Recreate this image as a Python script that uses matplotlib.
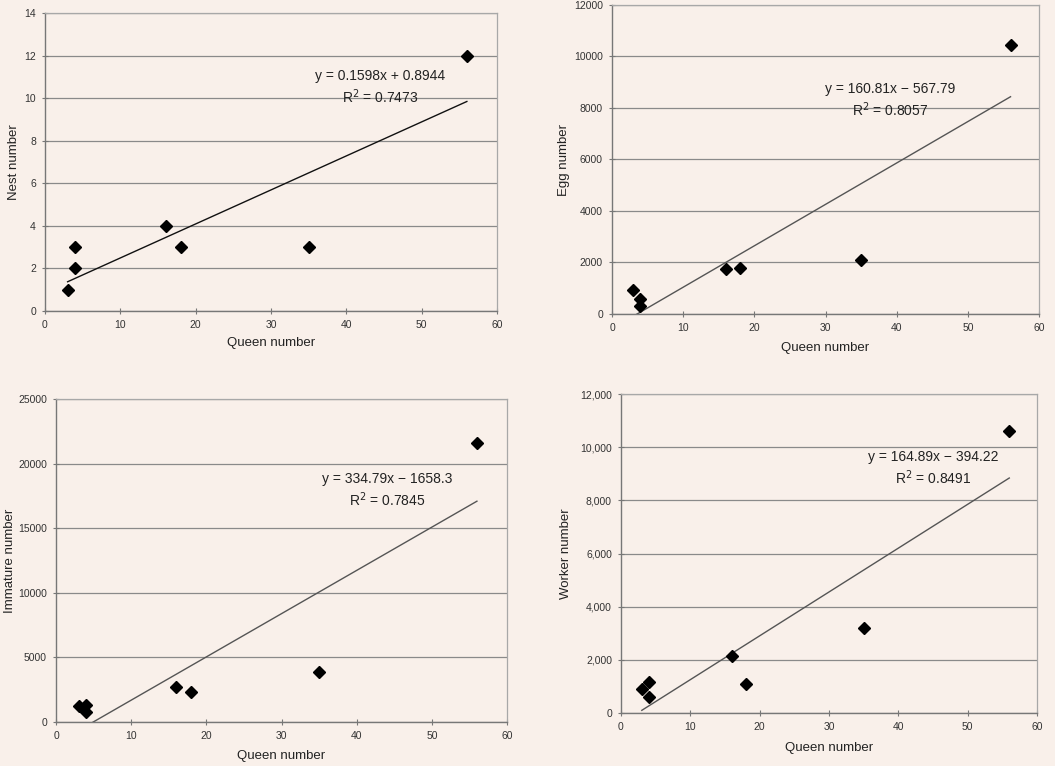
import matplotlib
matplotlib.use("Agg")
import matplotlib.pyplot as plt
import matplotlib.ticker as mticker
import numpy as np

plt.rcParams['font.family'] = ['Liberation Sans', 'DejaVu Sans']

queen = [3, 4, 4, 16, 18, 35, 56]
nest = [1, 3, 2, 4, 3, 3, 12]
egg = [950, 600, 300, 1750, 1800, 2100, 10450]
queen_imm = [3, 4, 4, 16, 18, 35, 56]
immature = [1200, 1350, 800, 2700, 2350, 3850, 21600]
worker = [900, 1150, 600, 2150, 1100, 3200, 10600]

panels = [
    dict(y=nest, x=queen, ylabel="Nest number", ymax=14, ystep=2, fmt=None,
         slope=0.1598, icpt=0.8944, eq="y = 0.1598x + 0.8944", r2="0.7473",
         tx=44.5, ty=10.5, lc="#111111"),
    dict(y=egg, x=queen, ylabel="Egg number", ymax=12000, ystep=2000, fmt=None,
         slope=160.81, icpt=-567.79, eq="y = 160.81x \u2212 567.79", r2="0.8057",
         tx=39.1, ty=8300, lc="#555555"),
    dict(y=immature, x=queen_imm, ylabel="Immature number", ymax=25000, ystep=5000, fmt=None,
         slope=334.79, icpt=-1658.3, eq="y = 334.79x \u2212 1658.3", r2="0.7845",
         tx=44.0, ty=17900, lc="#555555"),
    dict(y=worker, x=queen, ylabel="Worker number", ymax=12000, ystep=2000, fmt="comma",
         slope=164.89, icpt=-394.22, eq="y = 164.89x \u2212 394.22", r2="0.8491",
         tx=45.0, ty=9200, lc="#555555"),
]

W, H = 1055, 766
bg = "#f9f0ea"
fig = plt.figure(figsize=(W / 100, H / 100), dpi=100, facecolor=bg)

# axes boxes in pixels: left, right, top, bottom
boxes = [(45, 497, 13, 311), (612, 1039, 5, 314), (56, 507, 399, 722), (621, 1037, 394, 713)]
ylab_x = [14, 564, 10, 566]
xlab_y = [343, 348, 756, 748]

for p, (l, r, t, b), ylx, xly in zip(panels, boxes, ylab_x, xlab_y):
    ax = fig.add_axes([l / W, 1 - b / H, (r - l) / W, (b - t) / H], facecolor=bg)
    ax.set_xlim(0, 60)
    ax.set_ylim(0, p["ymax"])
    ax.set_xticks(np.arange(0, 61, 10))
    ax.set_yticks(np.arange(0, p["ymax"] + 1, p["ystep"]))
    if p["fmt"] == "comma":
        ax.yaxis.set_major_formatter(mticker.FuncFormatter(lambda v, pos: f"{int(v):,}"))
    ax.grid(axis="y", color="#8a8a8a", linewidth=0.9)
    ax.set_axisbelow(True)
    for s in ["left", "bottom"]:
        ax.spines[s].set_color("#777777")
        ax.spines[s].set_linewidth(1.0)
    for s in ["top", "right"]:
        ax.spines[s].set_color("#a8a8a8")
        ax.spines[s].set_linewidth(0.9)
    ax.tick_params(direction="inout", length=5, width=0.8, color="#777777",
                   labelsize=7.5, labelcolor="#333333", pad=4)
    xs = np.array(p["x"])
    xl = np.array([xs.min(), xs.max()])
    ax.plot(xl, p["slope"] * xl + p["icpt"], color=p["lc"], linewidth=1.0, zorder=2)
    ax.plot(xs, p["y"], linestyle="none", marker="D", markersize=6.2,
            color="black", zorder=3, clip_on=False)
    ax.text(p["tx"], p["ty"], p["eq"] + "\n" + "R$^2$ = " + p["r2"], ha="center", va="center",
            fontsize=10, color="#222222", linespacing=1.3)
    fig.text((l + r) / 2 / W, 1 - xly / H, "Queen number", ha="center", va="center",
             fontsize=9.5, color="#222222")
    fig.text(ylx / W, 1 - (t + b) / 2 / H, p["ylabel"], ha="center", va="center",
             rotation=90, fontsize=9.5, color="#222222")

fig.savefig("out.png", dpi=100, facecolor=bg)
